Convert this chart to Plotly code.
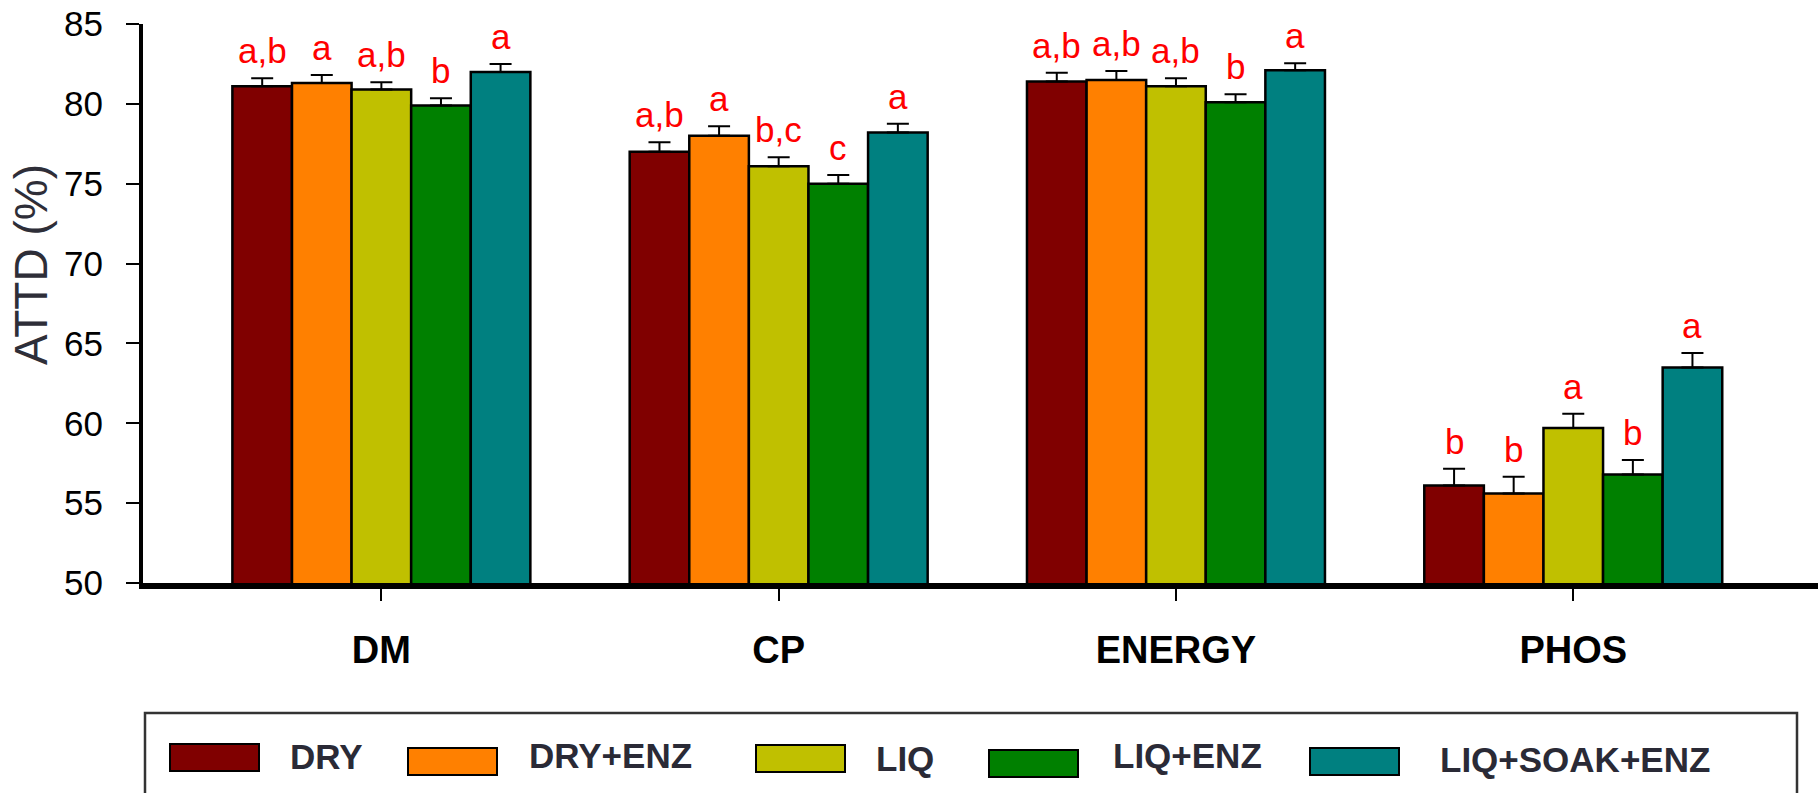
import plotly.graph_objects as go

# Nutrient digestibility (ATTD, %) by feeding treatment
categories = ["DM", "CP", "ENERGY", "PHOS"]
treatments = ["DRY", "DRY+ENZ", "LIQ", "LIQ+ENZ", "LIQ+SOAK+ENZ"]

dry_vals = [81.1, 77.0, 81.4, 56.1]
dry_enz_vals = [81.3, 78.0, 81.5, 55.6]
liq_vals = [80.9, 76.1, 81.1, 59.7]
liq_enz_vals = [79.9, 75.0, 80.1, 56.8]
liq_soak_enz_vals = [82.0, 78.2, 82.1, 63.5]

dry_err = [0.5, 0.6, 0.55, 1.05]
dry_enz_err = [0.5, 0.6, 0.55, 1.05]
liq_err = [0.45, 0.55, 0.5, 0.9]
liq_enz_err = [0.45, 0.55, 0.5, 0.9]
liq_soak_enz_err = [0.5, 0.55, 0.45, 0.9]

dry_sig = ["a,b", "a,b", "a,b", "b"]
dry_enz_sig = ["a", "a", "a,b", "b"]
liq_sig = ["a,b", "b,c", "a,b", "a"]
liq_enz_sig = ["b", "c", "b", "b"]
liq_soak_enz_sig = ["a", "a", "a", "a"]

y_ticks = [50, 55, 60, 65, 70, 75, 80, 85]

values = [dry_vals, dry_enz_vals, liq_vals, liq_enz_vals, liq_soak_enz_vals]
errors = [dry_err, dry_enz_err, liq_err, liq_enz_err, liq_soak_enz_err]
letters = [dry_sig, dry_enz_sig, liq_sig, liq_enz_sig, liq_soak_enz_sig]
colors = ["#800000", "#ff8000", "#c0c000", "#008000", "#008080"]

SANS = "Liberation Sans, Arial, sans-serif"

W, H = 1818, 793
L, T, B = 143, 24, 210
PW, PH = W - L, H - T - B


def px(xp):
    return (xp - L) / PW


def py(yp):
    return (H - B - yp) / PH


fig = go.Figure()
n = len(treatments)
bar_w = 0.75 / n
for j, name in enumerate(treatments):
    fig.add_trace(go.Bar(
        name=name, x=categories, y=values[j],
        marker=dict(color=colors[j], line=dict(color="black", width=2.5)),
        error_y=dict(type="data", symmetric=False, array=errors[j],
                     arrayminus=[0] * len(categories),
                     color="black", thickness=2, width=11),
        showlegend=False,
    ))
    for i, cat in enumerate(categories):
        fig.add_annotation(
            x=i + (j - (n - 1) / 2) * bar_w, y=values[j][i] + errors[j][i],
            xref="x", yref="y", text=letters[j][i], showarrow=False,
            yanchor="bottom", yshift=6,
            font=dict(family=SANS, size=35, color="#ff0000"),
        )

# Y axis title
fig.add_annotation(
    x=px(31), y=py(265), xref="paper", yref="paper", text="ATTD (%)",
    textangle=-90, showarrow=False, xanchor="center", yanchor="middle",
    font=dict(family=SANS, size=46, color="#2e2e38"),
)

# Legend frame and entries
shapes = [dict(type="rect", xref="paper", yref="paper",
               x0=px(145), x1=px(1797), y0=py(805), y1=py(713),
               line=dict(color="#333333", width=2.5), fillcolor="white", layer="below")]
swatch_x = [170, 408, 756, 989, 1310]
swatch_y = [744, 748, 745, 750, 748]
label_x = [288, 527, 874, 1111, 1438]
label_y = [756, 755, 758, 755, 759]
for j, name in enumerate(treatments):
    shapes.append(dict(type="rect", xref="paper", yref="paper",
                       x0=px(swatch_x[j]), x1=px(swatch_x[j] + 89),
                       y0=py(swatch_y[j] + 27), y1=py(swatch_y[j]),
                       line=dict(color="black", width=2), fillcolor=colors[j]))
    fig.add_annotation(
        x=px(label_x[j]), y=py(label_y[j]), xref="paper", yref="paper",
        text="<b>%s</b>" % name, showarrow=False, xanchor="left", yanchor="middle",
        font=dict(family=SANS, size=35, color="#2a2a36"),
    )

fig.update_layout(
    width=W, height=H,
    margin=dict(l=L, r=0, t=T, b=B),
    paper_bgcolor="white", plot_bgcolor="white",
    barmode="group", bargap=0.25, bargroupgap=0,
    shapes=shapes,
    xaxis=dict(
        range=[-0.6, 3.616], showgrid=False, zeroline=False,
        showline=True, linecolor="black", linewidth=6,
        ticks="outside", ticklen=12, tickwidth=1.5, tickcolor="black",
        tickfont=dict(family=SANS, size=38, color="black"),
        tickvals=categories, ticktext=["<b>%s</b>" % c for c in categories],
        ticklabelstandoff=16,
    ),
    yaxis=dict(
        range=[50, 85], showgrid=False, zeroline=False,
        showline=True, linecolor="black", linewidth=4,
        ticks="outside", ticklen=13, tickwidth=2, tickcolor="black",
        tickvals=y_ticks,
        tickfont=dict(family=SANS, size=35, color="black"),
        ticklabelstandoff=16,
    ),
)

fig.write_html("out.html")
